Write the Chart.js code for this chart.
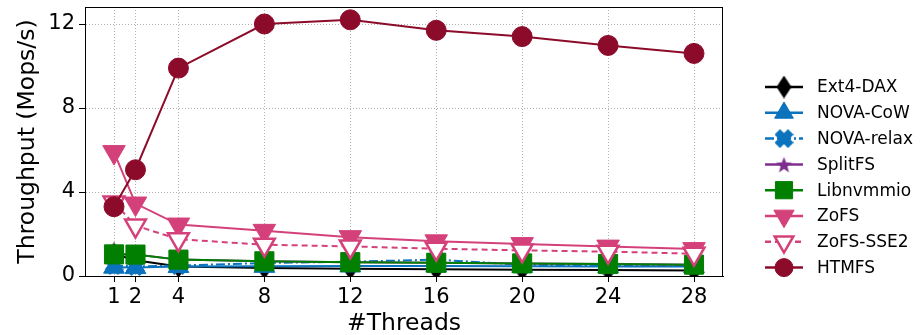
<!DOCTYPE html>
<html>
<head>
<meta charset="utf-8">
<script src="https://cdn.jsdelivr.net/npm/chart.js@4.4.0/dist/chart.umd.min.js"></script>
<style>
  html, body { margin: 0; padding: 0; background: #fff; }
  #wrap { width: 924px; height: 335px; }
</style>
</head>
<body>
<div id="wrap"><canvas id="c" width="924" height="335"></canvas></div>
<script>
// data
const threads = [1, 2, 4, 8, 12, 16, 20, 24, 28];
const ext4Dax   = [1.05, 0.75, 0.45, 0.38, 0.35, 0.32, 0.30, 0.28, 0.26];
const novaCow   = [0.42, 0.40, 0.45, 0.46, 0.48, 0.48, 0.46, 0.45, 0.45];
const novaRelax = [0.50, 0.45, 0.50, 0.62, 0.68, 0.78, 0.54, 0.50, 0.50];
const splitFs   = [1.03, 1.02, 0.78, 0.70, 0.66, 0.63, 0.60, 0.57, 0.54];
const libnvmmio = [1.03, 1.02, 0.78, 0.70, 0.66, 0.63, 0.60, 0.57, 0.54];
const zofs      = [5.9, 3.45, 2.45, 2.15, 1.85, 1.65, 1.52, 1.40, 1.28];
const zofsSse2  = [3.5, 2.40, 1.75, 1.49, 1.41, 1.30, 1.22, 1.16, 1.06];
const htmfs     = [3.3, 5.06, 9.9, 12.0, 12.2, 11.7, 11.4, 10.98, 10.6];
const yTicks = [0, 4, 8, 12];

const FONT = "'DejaVu Sans', sans-serif";

// little marker pictures for the shapes Chart.js does not have
function markerCanvas(w, h, color, drawFn) {
  const cv = document.createElement('canvas');
  cv.width = w; cv.height = h;
  const g = cv.getContext('2d');
  g.fillStyle = color;
  drawFn(g, w, h);
  return cv;
}
const thinDiamond = markerCanvas(15, 23, '#000', (g, w, h) => {
  g.beginPath(); g.moveTo(w / 2, 0); g.lineTo(w, h / 2); g.lineTo(w / 2, h); g.lineTo(0, h / 2);
  g.closePath(); g.fill();
});
const fatX = markerCanvas(19, 19, '#0b72bd', (g, w, h) => {
  const a = 5.5, c = w / 2;
  g.beginPath();
  g.moveTo(0, a); g.lineTo(a, 0); g.lineTo(c, c - a); g.lineTo(w - a, 0); g.lineTo(w, a);
  g.lineTo(c + a, c); g.lineTo(w, h - a); g.lineTo(w - a, h); g.lineTo(c, c + a);
  g.lineTo(a, h); g.lineTo(0, h - a); g.lineTo(c - a, c);
  g.closePath(); g.fill();
});
const star = markerCanvas(17, 17, '#7e2f8e', (g, w, h) => {
  const cx = w / 2, cy = h / 2 + 1, R = 8.5, r = 3.6;
  g.beginPath();
  for (let i = 0; i < 10; i++) {
    const ang = -Math.PI / 2 + i * Math.PI / 5;
    const rr = i % 2 ? r : R;
    g.lineTo(cx + rr * Math.cos(ang), cy + rr * Math.sin(ang));
  }
  g.closePath(); g.fill();
});

function pts(vals) { return threads.map((t, i) => ({ x: t, y: vals[i] })); }

const series = [
  { label: 'Ext4-DAX',   data: ext4Dax,   color: '#000000', dash: [],           style: thinDiamond, r: 11 },
  { label: 'NOVA-CoW',   data: novaCow,   color: '#0b72bd', dash: [],           style: 'triangle',  r: 12 },
  { label: 'NOVA-relax', data: novaRelax, color: '#0b72bd', dash: [9, 3, 2, 3], style: fatX,        r: 10 },
  { label: 'SplitFS',    data: splitFs,   color: '#7e2f8e', dash: [],           style: star,        r: 9 },
  { label: 'Libnvmmio',  data: libnvmmio, color: '#007f00', dash: [],           style: 'rect',      r: 13.5 },
  { label: 'ZoFS',       data: zofs,      color: '#d4417a', dash: [],           style: 'triangle',  r: 13, rot: 180 },
  { label: 'ZoFS-SSE2',  data: zofsSse2,  color: '#d4417a', dash: [6, 4],       style: 'triangle',  r: 12, rot: 180, hollow: true },
  { label: 'HTMFS',      data: htmfs,     color: '#8c0b2a', dash: [],           style: 'circle',    r: 10 }
];

const datasets = series.map((s, i) => ({
  label: s.label,
  data: pts(s.data),
  borderColor: s.color,
  borderWidth: 2,
  borderDash: s.dash,
  backgroundColor: s.hollow ? '#ffffff' : s.color,
  pointStyle: s.style,
  pointRadius: s.r,
  pointHoverRadius: s.r,
  pointRotation: s.rot || 0,
  pointBorderColor: s.color,
  pointBackgroundColor: s.hollow ? '#ffffff' : s.color,
  pointBorderWidth: s.hollow ? 2.5 : 1,
  tension: 0,
  fill: false,
  order: series.length - i
}));

// black frame round the plot, like matplotlib spines
const framePlugin = {
  id: 'frame',
  afterDatasetsDraw(chart) {
    const { ctx, chartArea: a } = chart;
    ctx.save();
    ctx.strokeStyle = '#000';
    ctx.lineWidth = 1;
    ctx.setLineDash([]);
    ctx.strokeRect(Math.round(a.left) + 0.5, Math.round(a.top) + 0.5,
                   Math.round(a.right - a.left) - 1, Math.round(a.bottom - a.top));
    ctx.restore();
  }
};

// legend on the right with line + marker handles
const legendPlugin = {
  id: 'sideLegend',
  afterDraw(chart) {
    const ctx = chart.ctx;
    const x0 = 765, x1 = 803, xt = 817, y0 = 87, step = 25.8;
    ctx.save();
    chart.data.datasets.forEach((ds, i) => {
      const y = y0 + i * step;
      ctx.strokeStyle = ds.borderColor;
      ctx.lineWidth = 2.5;
      ctx.setLineDash(ds.borderDash || []);
      ctx.beginPath(); ctx.moveTo(x0, y); ctx.lineTo(x1, y); ctx.stroke();
      ctx.setLineDash([]);
      ctx.fillStyle = ds.pointBackgroundColor;
      ctx.strokeStyle = ds.pointBorderColor;
      ctx.lineWidth = ds.pointBorderWidth;
      const opts = { pointStyle: ds.pointStyle, radius: ds.pointRadius * 0.9,
                     rotation: ds.pointRotation, borderWidth: ds.pointBorderWidth };
      if (Chart.helpers && Chart.helpers.drawPoint) {
        Chart.helpers.drawPoint(ctx, opts, (x0 + x1) / 2, y);
      } else {
        ctx.beginPath(); ctx.arc((x0 + x1) / 2, y, 8, 0, Math.PI * 2); ctx.fill();
      }
      ctx.fillStyle = '#000';
      ctx.font = '17px ' + FONT;
      ctx.textAlign = 'left';
      ctx.textBaseline = 'middle';
      ctx.fillText(ds.label, xt, y + 1);
    });
    ctx.restore();
  }
};

const gridOpts = { color: '#b0b0b0', lineWidth: 1, borderDash: [1, 2], tickLength: 6,
                   tickColor: '#000', tickWidth: 1, tickBorderDash: [] };
const borderOpts = { display: true, color: '#000', width: 1, dash: [1, 2] };

new Chart(document.getElementById('c'), {
  type: 'line',
  data: { datasets: datasets },
  options: {
    responsive: false,
    devicePixelRatio: 1,
    animation: false,
    events: [],
    layout: { autoPadding: false, padding: { left: 0, top: 7, right: 201, bottom: 0 } },
    plugins: { legend: { display: false }, tooltip: { enabled: false } },
    scales: {
      x: {
        type: 'linear',
        min: -0.35,
        max: 29.35,
        afterBuildTicks: s => { s.ticks = threads.map(v => ({ value: v })); },
        afterFit: s => { s.height = 59; s.paddingLeft = 0; s.paddingRight = 0; },
        ticks: { color: '#000', font: { family: FONT, size: 21 }, padding: 3, maxRotation: 0, autoSkip: false },
        grid: gridOpts,
        border: borderOpts,
        title: { display: true, text: '#Threads', color: '#000', font: { family: FONT, size: 23.5 },
                 padding: { top: 0, bottom: -2.6 } }
      },
      y: {
        min: 0,
        max: 12.81,
        afterBuildTicks: s => { s.ticks = yTicks.map(v => ({ value: v })); },
        afterFit: s => { s.width = 85; s.paddingTop = 0; s.paddingBottom = 0; },
        ticks: { color: '#000', font: { family: FONT, size: 21 }, padding: 4 },
        grid: gridOpts,
        border: borderOpts,
        title: { display: true, text: 'Throughput (Mops/s)', color: '#000', font: { family: FONT, size: 23.5 },
                 padding: { top: 14, bottom: 0 } }
      }
    }
  },
  plugins: [framePlugin, legendPlugin]
});
</script>
</body>
</html>
